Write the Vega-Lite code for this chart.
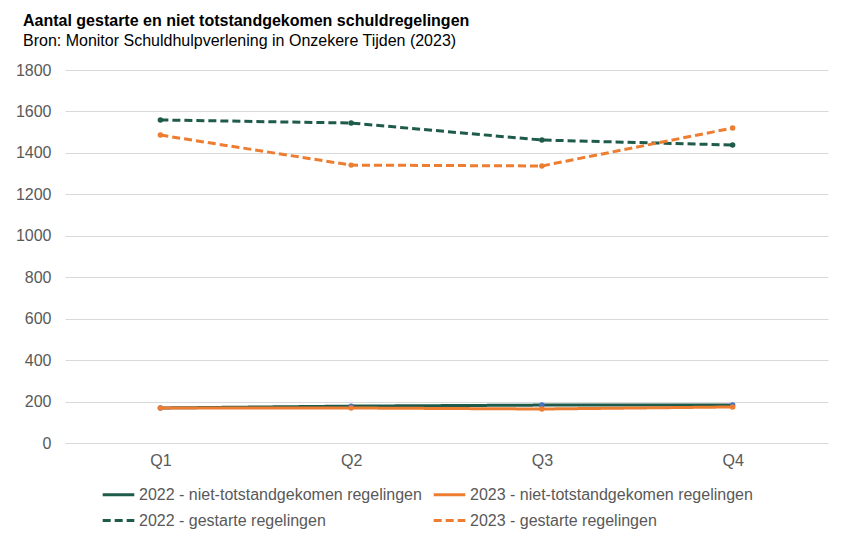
{
  "$schema": "https://vega.github.io/schema/vega-lite/v6.json",
  "width": 763,
  "height": 373,
  "autosize": {"type": "none"},
  "padding": {"left": 65, "top": 70, "right": 15, "bottom": 99},
  "background": "white",
  "title": {
    "text": "Aantal gestarte en niet totstandgekomen schuldregelingen",
    "subtitle": "Bron: Monitor Schuldhulpverlening in Onzekere Tijden (2023)",
    "anchor": "start",
    "frame": "group",
    "orient": "top",
    "offset": 13,
    "dx": -42,
    "font": "Liberation Sans",
    "fontSize": 16,
    "fontWeight": "bold",
    "color": "#000000",
    "subtitleFont": "Liberation Sans",
    "subtitleFontSize": 16,
    "subtitleColor": "#000000",
    "subtitlePadding": 4
  },
  "config": {
    "view": {"stroke": null},
    "font": "Liberation Sans"
  },
  "data": {
    "values": [
      {"series": "2022 - niet-totstandgekomen regelingen", "quarter": "Q1", "value": 169},
      {"series": "2022 - niet-totstandgekomen regelingen", "quarter": "Q2", "value": 178},
      {"series": "2022 - niet-totstandgekomen regelingen", "quarter": "Q3", "value": 183},
      {"series": "2022 - niet-totstandgekomen regelingen", "quarter": "Q4", "value": 183},
      {"series": "2023 - niet-totstandgekomen regelingen", "quarter": "Q1", "value": 169},
      {"series": "2023 - niet-totstandgekomen regelingen", "quarter": "Q2", "value": 169},
      {"series": "2023 - niet-totstandgekomen regelingen", "quarter": "Q3", "value": 164},
      {"series": "2023 - niet-totstandgekomen regelingen", "quarter": "Q4", "value": 174},
      {"series": "2022 - gestarte regelingen", "quarter": "Q1", "value": 1559},
      {"series": "2022 - gestarte regelingen", "quarter": "Q2", "value": 1544},
      {"series": "2022 - gestarte regelingen", "quarter": "Q3", "value": 1462},
      {"series": "2022 - gestarte regelingen", "quarter": "Q4", "value": 1438},
      {"series": "2023 - gestarte regelingen", "quarter": "Q1", "value": 1486},
      {"series": "2023 - gestarte regelingen", "quarter": "Q2", "value": 1341},
      {"series": "2023 - gestarte regelingen", "quarter": "Q3", "value": 1337},
      {"series": "2023 - gestarte regelingen", "quarter": "Q4", "value": 1520}
    ]
  },
  "encoding": {
    "x": {
      "field": "quarter",
      "type": "ordinal",
      "scale": {"type": "point", "padding": 0.5},
      "axis": {
        "title": null,
        "labelAngle": 0,
        "labelFontSize": 16,
        "labelColor": "#595959",
        "labelPadding": 9,
        "ticks": false,
        "domain": false
      }
    },
    "y": {
      "field": "value",
      "type": "quantitative",
      "scale": {"domain": [0, 1800]},
      "axis": {
        "title": null,
        "values": [0, 200, 400, 600, 800, 1000, 1200, 1400, 1600, 1800],
        "format": "d",
        "labelFontSize": 16,
        "labelColor": "#595959",
        "labelPadding": 14,
        "ticks": false,
        "domain": false,
        "gridColor": "#d9d9d9",
        "gridWidth": 1
      }
    }
  },
  "layer": [
    {
      "mark": {"type": "line", "strokeWidth": 3},
      "encoding": {
        "color": {
          "field": "series",
          "type": "nominal",
          "scale": {
            "domain": ["2022 - niet-totstandgekomen regelingen", "2023 - niet-totstandgekomen regelingen", "2022 - gestarte regelingen", "2023 - gestarte regelingen"],
            "range": ["#1E5B4A", "#ED7D31", "#1E5B4A", "#ED7D31"]
          },
          "legend": {
            "title": null,
            "orient": "none",
            "legendX": 36,
            "legendY": 407,
            "columns": 2,
            "direction": "horizontal",
            "symbolType": "stroke",
            "symbolSize": 1000,
            "symbolStrokeWidth": 3,
            "labelFontSize": 16,
            "labelColor": "#595959",
            "labelOffset": 3,
            "labelLimit": 0,
            "columnPadding": 5,
            "rowPadding": -9
          }
        },
        "strokeDash": {
          "field": "series",
          "type": "nominal",
          "scale": {
            "domain": ["2022 - niet-totstandgekomen regelingen", "2023 - niet-totstandgekomen regelingen", "2022 - gestarte regelingen", "2023 - gestarte regelingen"],
            "range": [[1, 0], [1, 0], [8, 4], [8, 4]]
          },
          "legend": {
            "title": null,
            "orient": "none",
            "legendX": 36,
            "legendY": 407,
            "columns": 2,
            "direction": "horizontal",
            "symbolType": "stroke",
            "symbolSize": 1000,
            "symbolStrokeWidth": 3,
            "labelFontSize": 16,
            "labelColor": "#595959",
            "labelOffset": 3,
            "labelLimit": 0,
            "columnPadding": 5,
            "rowPadding": -9
          }
        }
      }
    },
    {
      "mark": {"type": "point", "filled": true, "size": 30, "opacity": 1, "strokeWidth": 0},
      "encoding": {
        "fill": {
          "field": "series",
          "type": "nominal",
          "scale": {
            "domain": ["2022 - niet-totstandgekomen regelingen", "2023 - niet-totstandgekomen regelingen", "2022 - gestarte regelingen", "2023 - gestarte regelingen"],
            "range": ["#4472C4", "#ED7D31", "#1E5B4A", "#ED7D31"]
          },
          "legend": null
        }
      }
    }
  ]
}
